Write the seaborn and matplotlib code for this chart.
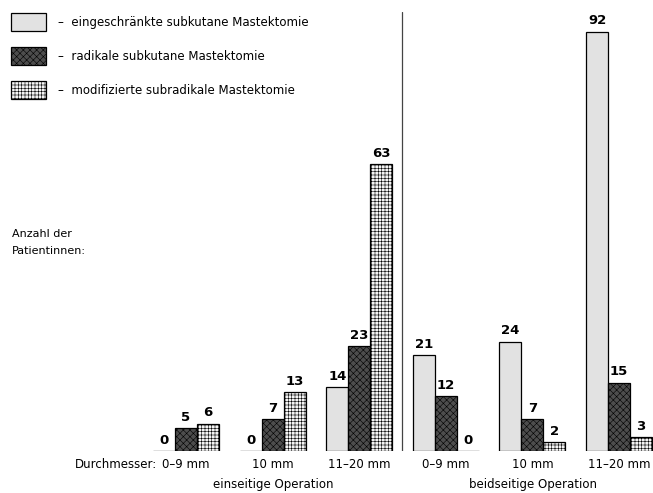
import pandas as pd
import matplotlib.pyplot as plt
import seaborn as sns

# Werte aus der Abbildung
gruppen = ["ein_0-9", "ein_10", "ein_11-20", "beid_0-9", "beid_10", "beid_11-20"]
tick_labels = ["0–9 mm", "10 mm", "11–20 mm", "0–9 mm", "10 mm", "11–20 mm"]
methoden = [
    "eingeschränkte subkutane Mastektomie",
    "radikale subkutane Mastektomie",
    "modifizierte subradikale Mastektomie",
]
eingeschraenkt = [0, 0, 14, 21, 24, 92]
radikal = [5, 7, 23, 12, 7, 15]
modifiziert = [6, 13, 63, 0, 2, 3]

df = pd.DataFrame({
    "gruppe": gruppen * 3,
    "methode": [methoden[0]] * 6 + [methoden[1]] * 6 + [methoden[2]] * 6,
    "anzahl": eingeschraenkt + radikal + modifiziert,
})

sns.set_theme(style="white")
plt.rcParams["font.family"] = ["DejaVu Sans"]
plt.rcParams["hatch.linewidth"] = 0.4
plt.rcParams["text.color"] = "black"
plt.rcParams["xtick.color"] = "black"

fig = plt.figure(figsize=(6.53, 4.93), dpi=100)
ax = fig.add_axes([0.0, 0.0852, 1.0, 0.8905])

palette = ["#e2e2e2", "#4d4d4d", "#f4f4f4"]
sns.barplot(data=df, x="gruppe", y="anzahl", hue="methode", order=gruppen,
            hue_order=methoden, palette=palette, width=0.76, ax=ax,
            edgecolor="black", linewidth=0.9, saturation=1, legend=False)

hatches = ["", "xxxxx", "+++++"]
for cont, h in zip(ax.containers, hatches):
    for bar in cont:
        bar.set_hatch(h)
    ax.bar_label(cont, padding=3, fontsize=9.5, fontweight="bold", color="black")

ax.set_xlim(-2.148, 5.393)
ax.set_ylim(0, 96.3)
ax.axvline(2.5, ymin=0, ymax=1, color="#444444", lw=0.9)
for s in ax.spines.values():
    s.set_visible(False)
ax.set_yticks([])
ax.set_xticks(range(6))
ax.set_xticklabels(tick_labels, fontsize=8.5)
ax.tick_params(axis="x", length=0, pad=5)
ax.set_xlabel("")
ax.set_ylabel("")

fig.text(0.115, 0.057, "Durchmesser:", fontsize=8.5, ha="left", va="center")
fig.text(273 / 653, 0.018, "einseitige Operation", fontsize=8.5, ha="center", va="center")
fig.text(533 / 653, 0.018, "beidseitige Operation", fontsize=8.5, ha="center", va="center")
fig.text(0.018, 0.508, "Anzahl der\nPatientinnen:", fontsize=8, ha="left", va="center",
         linespacing=1.8)

# Legende
handles = [cont.patches[0] for cont in ax.containers]
fig.legend(handles, ["–  " + m for m in methoden], loc="upper left",
           bbox_to_anchor=(0.0, 0.995), frameon=False, fontsize=8.5,
           handlelength=3.0, handleheight=1.9, handletextpad=1.0,
           labelspacing=1.4)

fig.savefig("out.png", dpi=100)
